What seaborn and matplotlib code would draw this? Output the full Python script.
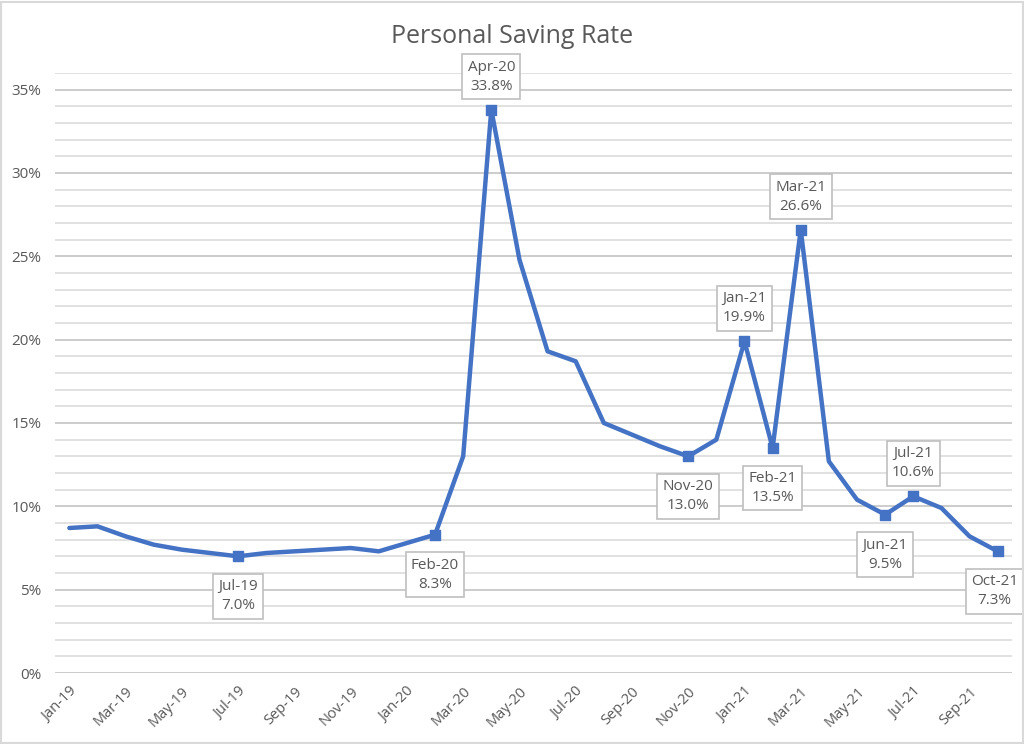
import matplotlib
matplotlib.use("Agg")
import matplotlib.pyplot as plt
import seaborn as sns
import pandas as pd
import numpy as np
from matplotlib.ticker import FuncFormatter, MultipleLocator
from matplotlib.patches import Rectangle

# monthly personal saving rate, Jan-19 .. Oct-21 (%)
months = ['Jan-19', 'Feb-19', 'Mar-19', 'Apr-19', 'May-19', 'Jun-19', 'Jul-19', 'Aug-19',
          'Sep-19', 'Oct-19', 'Nov-19', 'Dec-19', 'Jan-20', 'Feb-20', 'Mar-20', 'Apr-20',
          'May-20', 'Jun-20', 'Jul-20', 'Aug-20', 'Sep-20', 'Oct-20', 'Nov-20', 'Dec-20',
          'Jan-21', 'Feb-21', 'Mar-21', 'Apr-21', 'May-21', 'Jun-21', 'Jul-21', 'Aug-21',
          'Sep-21', 'Oct-21']
rate = [8.7, 8.8, 8.2, 7.7, 7.4, 7.2, 7.0, 7.2, 7.3, 7.4, 7.5, 7.3, 7.8, 8.3, 13.0, 33.8,
        24.8, 19.3, 18.7, 15.0, 14.3, 13.6, 13.0, 14.0, 19.9, 13.5, 26.6, 12.7, 10.4, 9.5,
        10.6, 9.9, 8.2, 7.3]

# labelled points and where the box sits (above / below)
labelled = ['Jul-19', 'Feb-20', 'Apr-20', 'Nov-20', 'Jan-21', 'Feb-21', 'Mar-21',
            'Jun-21', 'Jul-21', 'Oct-21']
label_side = ['below', 'below', 'above', 'below', 'above', 'below', 'above',
              'below', 'above', 'below']

df = pd.DataFrame({'month': months, 'rate': np.array(rate) / 100})
df['pos'] = np.arange(len(df))

blue = '#4472C4'
grey_text = '#595959'

sns.set_style('white')
plt.rcParams['font.family'] = ['Open Sans', 'DejaVu Sans']

fig = plt.figure(figsize=(10.24, 7.44), dpi=100)
ax = fig.add_axes([0.054, 0.0954, 0.934, 0.8066])

sns.lineplot(data=df, x='pos', y='rate', ax=ax, color=blue, lw=3.2)

marked = df[df.month.isin(labelled)]
ax.scatter(marked.pos, marked.rate, marker='s', s=55, color=blue, zorder=4)

ax.set_xlim(-0.5, len(df) - 0.5)
ax.set_ylim(0, 0.36)
ax.yaxis.set_major_locator(MultipleLocator(0.05))
ax.yaxis.set_minor_locator(MultipleLocator(0.01))
ax.yaxis.set_major_formatter(FuncFormatter(lambda v, p: '%.0f%%' % (v * 100)))
ax.grid(which='major', axis='y', color='#BFBFBF', lw=1.1)
ax.grid(which='minor', axis='y', color='#D9D9D9', lw=1.1)
ax.set_axisbelow(True)
for s in ax.spines.values():
    s.set_visible(False)

ax.set_xticks(df.pos[::2])
ax.set_xticklabels(df.month[::2], rotation=45, ha='right', rotation_mode='anchor')
ax.tick_params(axis='x', length=0, pad=8, labelsize=10.5, labelcolor=grey_text)
ax.tick_params(axis='y', which='both', length=0, pad=10, labelsize=11, labelcolor=grey_text)
ax.set_xlabel('')
ax.set_ylabel('')

for m, side in zip(labelled, label_side):
    row = df[df.month == m].iloc[0]
    dy = 33 if side == 'above' else -40
    dx = -3 if m == 'Oct-21' else 0
    ax.annotate('%s\n%.1f%%' % (m, row.rate * 100), (row.pos, row.rate),
                xytext=(dx, dy), textcoords='offset pixels', ha='center', va='center',
                fontsize=11, color=grey_text, linespacing=1.35, zorder=5,
                bbox=dict(boxstyle='square,pad=0.35', fc='white', ec='#BFBFBF', lw=1.2))

fig.text(0.5, 0.951, 'Personal Saving Rate', ha='center', va='center',
         fontsize=18, color=grey_text)

fig.patches.append(Rectangle((0.001, 0.001), 0.998, 0.996, transform=fig.transFigure,
                             fill=False, ec='#D9D9D9', lw=1.5))

fig.savefig('out.png', dpi=100)
